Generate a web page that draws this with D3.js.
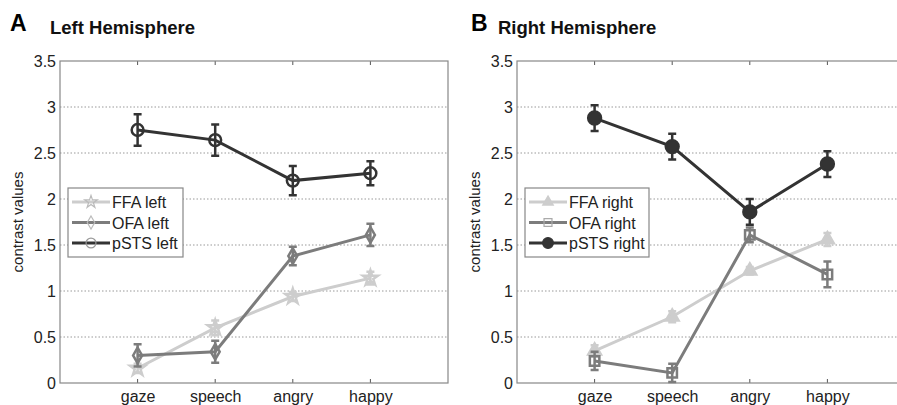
<!DOCTYPE html>
<html>
<head>
<meta charset="utf-8">
<script src="https://cdn.jsdelivr.net/npm/d3@7"></script>
<style>
  body { margin: 0; background: #fff; }
  svg { font-family: "Liberation Sans", Arial, sans-serif; display: block; }
</style>
</head>
<body>
<svg id="chart" width="897" height="405"></svg>
<script>
// Chart data
const categories = ["gaze", "speech", "angry", "happy"];
const yTicks = [0, 0.5, 1, 1.5, 2, 2.5, 3, 3.5];

const ffaLeft = [0.16, 0.60, 0.94, 1.14];
const ffaLeftErr = [0.05, 0.08, 0.05, 0.07];
const ofaLeft = [0.30, 0.34, 1.38, 1.61];
const ofaLeftErr = [0.12, 0.12, 0.10, 0.12];
const pstsLeft = [2.75, 2.64, 2.20, 2.28];
const pstsLeftErr = [0.17, 0.17, 0.16, 0.13];

const ffaRight = [0.35, 0.72, 1.22, 1.56];
const ffaRightErr = [0.06, 0.06, 0.04, 0.07];
const ofaRight = [0.24, 0.11, 1.61, 1.18];
const ofaRightErr = [0.10, 0.10, 0.08, 0.14];
const pstsRight = [2.88, 2.57, 1.86, 2.38];
const pstsRightErr = [0.14, 0.14, 0.14, 0.14];

const svg = d3.select("#chart");

// Colours per region
const colors = { FFA: "#cdcdcd", OFA: "#7c7c7c", pSTS: "#333333" };

function drawPanel(opts) {
    const { left, letter, title, letterX, titleX, series } = opts;
    const top = 61, height = 322, width = 388;

    // Scales: categories sit at 1..4 on a 0..5 axis
    const x = d3.scaleLinear().domain([0, 5]).range([left, left + width]);
    const y = d3.scaleLinear().domain([0, 3.5]).range([top + height, top]);

    const g = svg.append("g");

    // Panel letter and title
    g.append("text").attr("x", letterX).attr("y", 31)
        .attr("font-size", 23).attr("font-weight", "bold").text(letter);
    g.append("text").attr("x", titleX).attr("y", 34)
        .attr("font-size", 18.5).attr("font-weight", "bold").attr("fill", "#111").text(title);

    // Dotted grid
    g.append("g").selectAll("line")
        .data(yTicks.filter((t) => t > 0 && t < 3.5))
        .join("line")
        .attr("x1", x(0)).attr("x2", x(5))
        .attr("y1", (d) => y(d)).attr("y2", (d) => y(d))
        .attr("stroke", "#999").attr("stroke-width", 1)
        .attr("stroke-dasharray", "1.5,2");

    // Axes
    const yAxis = d3.axisLeft(y).tickValues(yTicks).tickSize(0).tickPadding(4)
        .tickFormat((d) => d3.format("")(d));
    g.append("g").attr("transform", `translate(${x(0)},0)`).call(yAxis)
        .call((a) => a.select(".domain").remove())
        .selectAll("text").attr("font-size", 16).attr("fill", "#222");

    const xAxis = d3.axisBottom(x).tickValues([1, 2, 3, 4]).tickSize(0).tickPadding(8)
        .tickFormat((d) => categories[d - 1]);
    g.append("g").attr("transform", `translate(0,${y(0)})`).call(xAxis)
        .call((a) => a.select(".domain").remove())
        .selectAll("text").attr("font-size", 16).attr("fill", "#222");

    // Tick marks inside the box (bottom and top)
    [y(0), y(3.5)].forEach((yy, i) => {
        g.append("g").selectAll("line").data([1, 2, 3, 4]).join("line")
            .attr("x1", (d) => x(d)).attr("x2", (d) => x(d))
            .attr("y1", yy).attr("y2", i === 0 ? yy - 4 : yy + 4)
            .attr("stroke", "#555");
    });

    // Plot box
    g.append("rect").attr("x", x(0)).attr("y", y(3.5))
        .attr("width", x(5) - x(0)).attr("height", y(0) - y(3.5))
        .attr("fill", "none").attr("stroke", "#888").attr("stroke-width", 1.2);

    // Y label
    g.append("text")
        .attr("transform", `translate(${left - 37},${y(1.75)}) rotate(-90)`)
        .attr("text-anchor", "middle").attr("font-size", 15).attr("fill", "#222")
        .text("contrast values");

    const line = d3.line().x((d, i) => x(i + 1)).y((d) => y(d));

    series.forEach((s) => {
        const sg = g.append("g");
        sg.append("path").datum(s.values).attr("d", line)
            .attr("fill", "none").attr("stroke", s.color).attr("stroke-width", 3);

        // Error bars
        s.values.forEach((v, i) => {
            const cx = x(i + 1), e = s.err[i];
            sg.append("path")
                .attr("d", `M${cx},${y(v - e)}V${y(v + e)}M${cx - 4},${y(v - e)}H${cx + 4}M${cx - 4},${y(v + e)}H${cx + 4}`)
                .attr("stroke", s.color).attr("stroke-width", 2.5).attr("fill", "none");
        });

        // Markers
        sg.selectAll(".m").data(s.values).join("path")
            .attr("transform", (d, i) => `translate(${x(i + 1)},${y(d)})`)
            .attr("d", d3.symbol().type(s.symbol).size(s.size))
            .attr("fill", s.filled ? s.color : "none")
            .attr("stroke", s.color).attr("stroke-width", 2.5);
    });

    // Legend
    const lg = g.append("g");
    const lx = left + 8, ly = 188;
    lg.append("rect").attr("x", lx).attr("y", ly)
        .attr("width", opts.legendWidth).attr("height", 69)
        .attr("fill", "#fff").attr("stroke", "#888").attr("stroke-width", 1.2);
    series.forEach((s, i) => {
        const yy = ly + 14 + i * 20.5;
        lg.append("line").attr("x1", lx + 4).attr("x2", lx + 42)
            .attr("y1", yy).attr("y2", yy)
            .attr("stroke", s.color).attr("stroke-width", 3);
        lg.append("path").attr("transform", `translate(${lx + 23},${yy})`)
            .attr("d", d3.symbol().type(s.symbol).size(s.size * 0.7))
            .attr("fill", s.filled ? s.color : "none")
            .attr("stroke", s.legendMarker || s.color).attr("stroke-width", 1.2);
        lg.append("text").attr("x", lx + 44).attr("y", yy + 6)
            .attr("font-size", 16).attr("fill", "#222").text(s.label);
    });
}

drawPanel({
    left: 60, letter: "A", title: "Left Hemisphere", letterX: 10, titleX: 50,
    legendWidth: 115,
    series: [
        { label: "FFA left", values: ffaLeft, err: ffaLeftErr, color: colors.FFA, symbol: d3.symbolStar, size: 70, legendMarker: "#bbb" },
        { label: "OFA left", values: ofaLeft, err: ofaLeftErr, color: colors.OFA, symbol: d3.symbolDiamond, size: 70, legendMarker: "#bbb" },
        { label: "pSTS left", values: pstsLeft, err: pstsLeftErr, color: colors.pSTS, symbol: d3.symbolCircle, size: 110, legendMarker: "#999" }
    ]
});

drawPanel({
    left: 517, letter: "B", title: "Right Hemisphere", letterX: 471, titleX: 498,
    legendWidth: 124,
    series: [
        { label: "FFA right", values: ffaRight, err: ffaRightErr, color: colors.FFA, symbol: d3.symbolTriangle, size: 70, filled: true },
        { label: "OFA right", values: ofaRight, err: ofaRightErr, color: colors.OFA, symbol: d3.symbolSquare, size: 90, legendMarker: "#aaa" },
        { label: "pSTS right", values: pstsRight, err: pstsRightErr, color: colors.pSTS, symbol: d3.symbolCircle, size: 130, filled: true }
    ]
});
</script>
</body>
</html>
